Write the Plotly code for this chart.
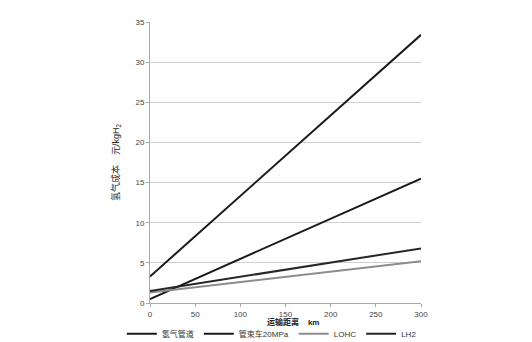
import plotly.graph_objects as go

distance = [0, 300]
series_names = ["氢气管道", "管束车20MPa", "LOHC", "LH2"]
pipeline = [0.5, 15.5]
tube_trailer = [3.3, 33.4]
lohc = [1.3, 5.2]
lh2 = [1.5, 6.8]
colors = ["#1a1a1a", "#1a1a1a", "#8c8c8c", "#262626"]
values = [pipeline, tube_trailer, lohc, lh2]
y_ticks = [0, 5, 10, 15, 20, 25, 30, 35]
x_ticks = [0, 50, 100, 150, 200, 250, 300]
x_title = "<b>运输距离</b>    <b>km</b>"
y_title = "氢气成本    元/kgH<sub>2</sub>"

fig = go.Figure()
for name, vals, c in zip(series_names, values, colors):
    fig.add_trace(go.Scatter(x=distance, y=vals, mode="lines", name=name,
                             line=dict(color=c, width=2)))

font_family = "Liberation Sans, Noto Sans CJK SC, sans-serif"
fig.update_layout(
    width=532, height=342,
    margin=dict(l=150, r=111, t=22, b=39, autoexpand=False),
    paper_bgcolor="white", plot_bgcolor="white",
    font=dict(family=font_family, size=8, color="#444"),
    showlegend=True,
    legend=dict(orientation="h", x=1.003, xanchor="right", y=-0.058, yanchor="top",
                font=dict(size=8, color="#333", family=font_family),
                itemwidth=30, tracegroupgap=0, bgcolor="rgba(0,0,0,0)",
                borderwidth=0),
    xaxis=dict(range=[0, 300], tickvals=x_ticks, showgrid=False, zeroline=False,
               showline=True, linecolor="#aaa", linewidth=1, ticks="outside",
               ticklen=3, tickcolor="#aaa", tickfont=dict(size=8, color="#444")),
    yaxis=dict(range=[0, 35], tickvals=y_ticks, showgrid=True, gridcolor="#d0d0d0",
               zeroline=False, showline=True, linecolor="#aaa", linewidth=1,
               ticks="outside", ticklen=3, tickcolor="#aaa",
               tickfont=dict(size=8, color="#444"),
               title=dict(text=y_title, font=dict(size=9, color="#222"), standoff=14)),
    annotations=[dict(text=x_title, xref="paper", yref="paper", x=0.528, y=-0.066,
                      xanchor="center", yanchor="middle", showarrow=False,
                      font=dict(size=8, color="#222", family=font_family))],
)

fig.write_html("out.html")
